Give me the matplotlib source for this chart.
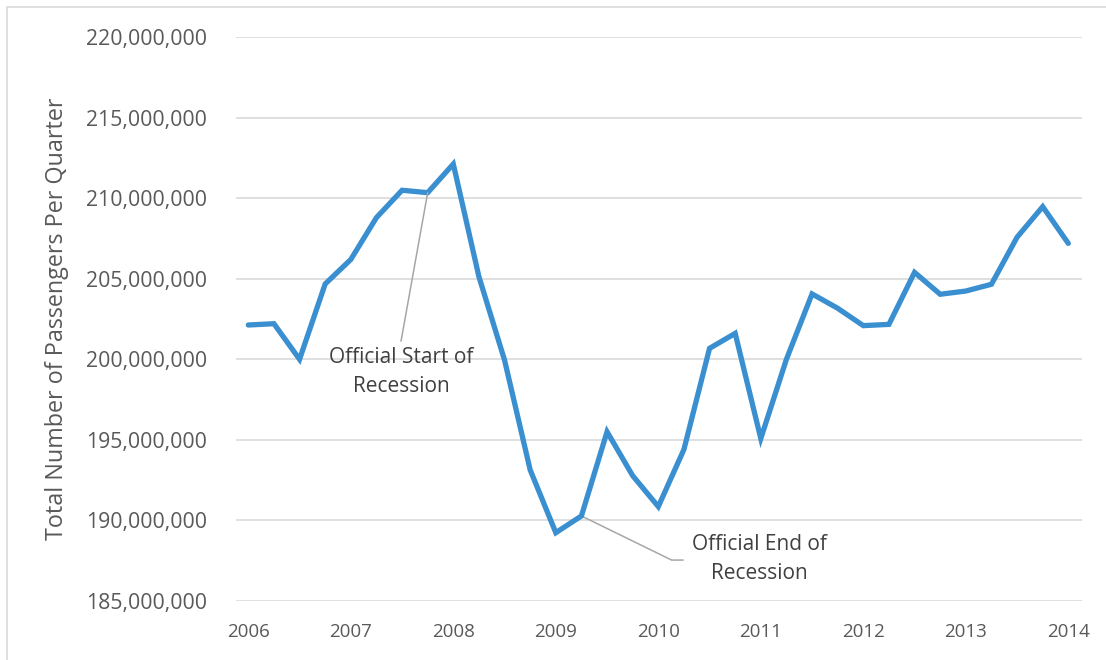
import numpy as np
import matplotlib
matplotlib.use("Agg")
import matplotlib.pyplot as plt
from matplotlib.ticker import FuncFormatter
from matplotlib.patches import Rectangle

plt.rcParams['font.family'] = ['Open Sans', 'DejaVu Sans']

# quarterly passengers, millions
years = [2006, 2007, 2008, 2009, 2010, 2011, 2012, 2013, 2014]
quarter_x = [2006 + i / 4 for i in range(33)]
passengers = [202.13, 202.21, 200.0, 204.68, 206.2, 208.8, 210.5, 210.35,
              212.13, 205.13, 199.95, 193.13, 189.23, 190.27, 195.5, 192.77,
              190.85, 194.4, 200.68, 201.61, 195.08, 200.0, 204.06, 203.17,
              202.09, 202.17, 205.4, 204.04, 204.24, 204.66, 207.58, 209.48,
              207.2]
passengers = np.array(passengers) * 1e6

start_idx = 7   # 2007 Q4
end_idx = 13    # 2009 Q2

txt = '#595959'
lead = '#a6a6a6'

fig = plt.figure(figsize=(11.06, 6.6), dpi=100)
ax = fig.add_axes([236 / 1106, 1 - 600.8 / 660, (1082 - 236) / 1106, (600.8 - 37.3) / 660])

ax.plot(quarter_x, passengers, color='#3A8FD0', linewidth=3.8,
        solid_joinstyle='miter', solid_capstyle='round', zorder=3)

ax.set_xlim(2006 - 12.3 / 102.5, 2014 + 13.7 / 102.5)
ax.set_ylim(185e6, 220e6)
ax.set_xticks(years)
ax.set_yticks(np.arange(185e6, 220e6 + 1, 5e6))
ax.yaxis.set_major_formatter(FuncFormatter(lambda v, p: f'{v:,.0f}'))
ax.grid(axis='y', color='#d9d9d9', linewidth=1.2, zorder=0)
ax.set_axisbelow(True)
for s in ax.spines.values():
    s.set_visible(False)
ax.tick_params(axis='both', length=0, colors=txt)
ax.tick_params(axis='y', labelsize=15.3, pad=21)
ax.tick_params(axis='x', labelsize=13.5, pad=16)

ax.set_ylabel('Total Number of Passengers Per Quarter', fontsize=16.8, color=txt, labelpad=12)

# start of recession label + leader
ax.annotate('Official Start of\nRecession',
            xy=(quarter_x[start_idx], passengers[start_idx]),
            xytext=(2007.49, 199.2e6), textcoords='data',
            ha='center', va='center', fontsize=15, color='#404040', linespacing=1.5,
            arrowprops=dict(arrowstyle='-', color=lead, lw=1.1,
                            shrinkA=0, shrinkB=0, relpos=(0.5, 1.12)))

# end of recession label + elbow leader
ax.text(2010.99, 187.6e6, 'Official End of\nRecession', ha='center', va='center',
        fontsize=15, color='#404040', linespacing=1.5)
ax.plot([quarter_x[end_idx], 2010.13, 2010.24],
        [passengers[end_idx], 187.53e6, 187.53e6], color=lead, lw=1.1, zorder=2)

fig.patches.append(Rectangle((7 / 1106, -0.1), 1.2, 1 - 7 / 660 + 0.1, transform=fig.transFigure,
                             fill=False, edgecolor='#d9d9d9', linewidth=1.2))

fig.savefig('out.png', dpi=100)
